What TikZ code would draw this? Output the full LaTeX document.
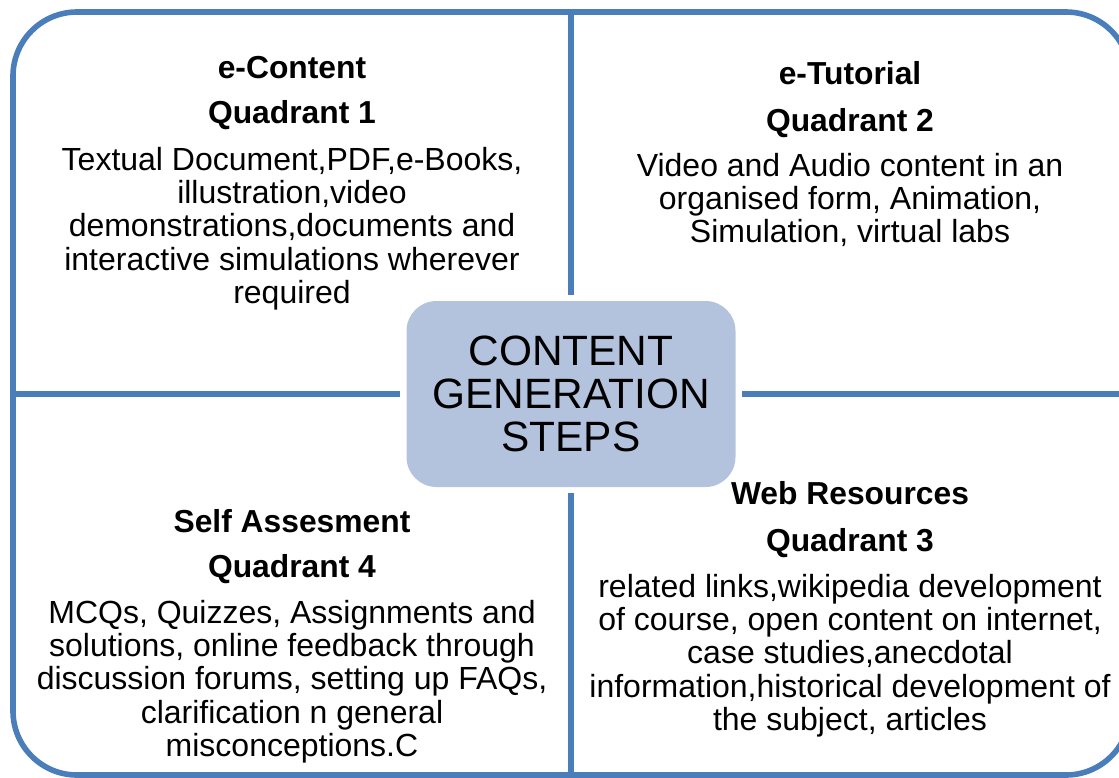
\documentclass[tikz,border=0pt]{standalone}
\usepackage{fontspec}
\setmainfont{Liberation Sans}
\definecolor{rimblue}{HTML}{4A7EBB}
\definecolor{hubfill}{HTML}{B4C3DD}
\tikzset{
  rim/.style={draw=rimblue, line width=2.8pt},
  hub/.style={fill=hubfill, rounded corners=15pt, minimum width=164.5pt, minimum height=93pt, align=center, inner sep=0pt, font=\fontsize{21.2pt}{21.5pt}\selectfont},
  head/.style={anchor=base, inner sep=0pt, font=\bfseries\fontsize{15.9pt}{16pt}\selectfont},
  body/.style={anchor=north, align=center, inner sep=0pt, font=\fontsize{16pt}{16.6pt}\selectfont}
}

\begin{document}
\begin{tikzpicture}[x=0.5pt, y=-0.5pt]
	\useasboundingbox (0,0) rectangle (1119,777);
	\clip (0,0) rectangle (1119,777);
	\draw [rim, rounded corners=32pt] (13,12) rectangle (1130,775);
	
	\coordinate (top) at (571,12);
	\coordinate (bot) at (571,775);
	\coordinate (lft) at (13,394);
	\coordinate (rgt) at (1130,394);
	
	\node [hub] (steps) at (571,394) {CONTENT\\GENERATION\\STEPS};
	
	\begin{scope}[rim, shorten >=3pt]
		\draw (top) -- (steps);
		\draw (bot) -- (steps);
		\draw (lft) -- (steps);
		\draw (rgt) -- (steps);
	\end{scope}
	
	\node [head] (q1-name) at (292,78) {e-Content};
	\node [head] (q1-num) at (292,123) {Quadrant 1};
	\node [body] (q1-text) at (292,147) {Textual Document,PDF,e-Books,\\illustration,video\\demonstrations,documents and\\interactive simulations wherever\\required};
	
	\node [head] (q2-name) at (850,84) {e-Tutorial};
	\node [head] (q2-num) at (850,131) {Quadrant 2};
	\node [body] (q2-text) at (850,153) {Video and Audio content in an\\organised form, Animation,\\Simulation, virtual labs};
	
	\node [head] (q4-name) at (292,532) {Self Assesment};
	\node [head] (q4-num) at (292,577) {Quadrant 4};
	\node [body] (q4-text) at (292,600) {MCQs, Quizzes, Assignments and\\solutions, online feedback through\\discussion forums, setting up FAQs,\\clarification n general\\misconceptions.C};
	
	\node [head] (q3-name) at (850,504) {Web Resources};
	\node [head] (q3-num) at (850,551) {Quadrant 3};
	\node [body] (q3-text) at (850,574) {related links,wikipedia development\\of course, open content on internet,\\case studies,anecdotal\\information,historical development of\\the subject, articles};
\end{tikzpicture}
\end{document}
